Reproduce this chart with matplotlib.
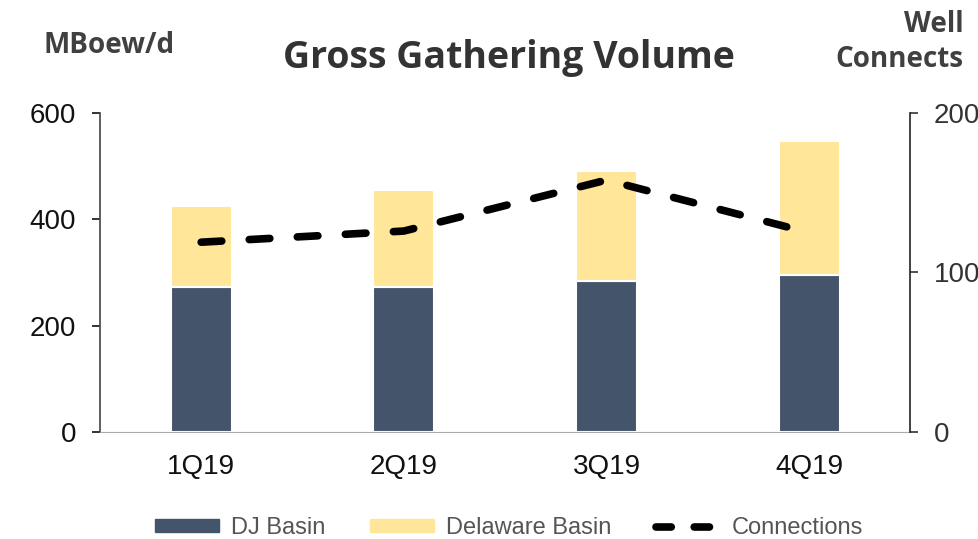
import numpy as np
import matplotlib.pyplot as plt
from matplotlib.lines import Line2D
from matplotlib.patches import Patch

quarters = ["1Q19", "2Q19", "3Q19", "4Q19"]
dj_basin = [272, 272, 284, 295]
delaware_basin = [153, 183, 208, 252]
connections = [119, 126, 158, 125]

DJ_COLOR = "#44546A"
DEL_COLOR = "#FFE699"

plt.rcParams["font.family"] = ["Liberation Sans", "DejaVu Sans"]

fig = plt.figure(figsize=(9.79, 5.39), dpi=100)
ax = fig.add_axes([0.102, 0.199, 0.828, 0.591])
x = np.arange(len(quarters))
ax.bar(x, dj_basin, width=0.3, color=DJ_COLOR, edgecolor="white", linewidth=1.5)
ax.bar(x, delaware_basin, width=0.3, bottom=dj_basin, color=DEL_COLOR,
       edgecolor="white", linewidth=1.5)
ax.set_xlim(-0.5, 3.5)
ax.set_ylim(0, 600)
ax.set_yticks([0, 200, 400, 600])
ax.set_xticks(x)
ax.set_xticklabels(quarters)
ax.tick_params(axis="x", length=0, pad=16, labelsize=20, colors="#111111")
ax.tick_params(axis="y", length=6, width=1.2, labelsize=20, colors="#111111", pad=11)
for s in ["top", "right"]:
    ax.spines[s].set_visible(False)
ax.spines["left"].set_color("#444444")
ax.spines["left"].set_linewidth(1.2)
ax.spines["bottom"].set_color("#AAAAAA")

ax2 = ax.twinx()
ax2.plot(x, connections, color="black", lw=5.5, dashes=(2.7, 3.6), dash_capstyle="round")
ax2.set_ylim(0, 200)
ax2.set_yticks([0, 100, 200])
ax2.tick_params(axis="y", length=6, width=1.2, labelsize=20, colors="#333333", pad=11)
for s in ["top", "left", "bottom"]:
    ax2.spines[s].set_visible(False)
ax2.spines["right"].set_color("#222222")
ax2.spines["right"].set_linewidth(1.2)

fig.text(0.52, 0.893, "Gross Gathering Volume", ha="center", va="center",
         fontsize=27, fontweight="bold", color="#333333", family="Open Sans")
fig.text(0.044, 0.916, "MBoew/d", ha="left", va="center", fontsize=20,
         fontweight="bold", color="#404040", family="Open Sans")
fig.text(0.984, 0.922, "Well\nConnects", ha="right", va="center", fontsize=20,
         fontweight="bold", color="#404040", family="Open Sans", linespacing=1.25)

handles = [Patch(color=DJ_COLOR), Patch(color=DEL_COLOR),
           Line2D([], [], color="black", lw=5.5, dashes=(2.0, 3.0), dash_capstyle="round")]
fig.legend(handles, ["DJ Basin", "Delaware Basin", "Connections"], loc="center",
           bbox_to_anchor=(0.52, 0.02), ncol=3, frameon=False, fontsize=17,
           handlelength=2.7, handleheight=0.45, columnspacing=1.9, handletextpad=0.5,
           labelcolor="#555555")

fig.savefig("out.png", dpi=100)
